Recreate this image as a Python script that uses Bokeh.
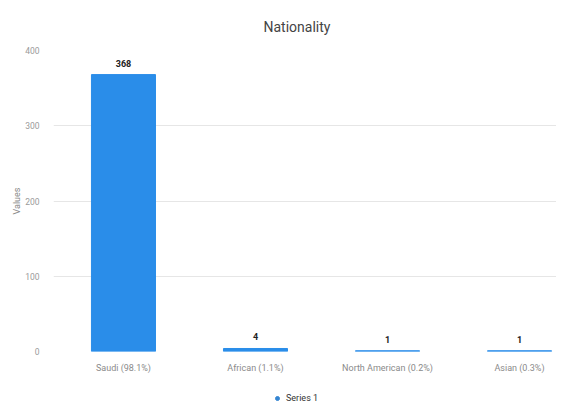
from bokeh.plotting import figure
from bokeh.layouts import column
from bokeh.models import ColumnDataSource, Range1d, FixedTicker, Legend, LegendItem
from bokeh.core.properties import value
from bokeh.embed import file_html
from bokeh.resources import INLINE

categories = ["Saudi (98.1%)", "African (1.1%)", "North American (0.2%)", "Asian (0.3%)"]
counts = [368, 4, 1, 1]
y_ticks = [0, 100, 200, 300, 400]
series_name = "Series 1"

xs = list(range(len(categories)))
src = ColumnDataSource(dict(x=xs, y=counts, lbl=[str(c) for c in counts]))

FONT = "Roboto"
BLUE = "#2a8de9"

p = figure(width=556, height=380, output_backend="svg", toolbar_location=None,
           x_range=Range1d(-0.53, 3.28), y_range=Range1d(0, 400),
           min_border_left=53, min_border_right=0, min_border_top=50, min_border_bottom=29,
           title="Nationality")
p.outline_line_color = None
p.background_fill_color = "white"
p.border_fill_color = "white"

p.title.align = "left"
p.title.offset = 210
p.title.text_font = FONT
p.title.text_font_style = "normal"
p.title.text_font_size = "14px"
p.title.text_color = "#444444"
p.title.standoff = 31

p.vbar(x="x", top="y", width=0.485, source=src, color=BLUE)
p.text(x="x", y="y", text="lbl", source=src, y_offset=-8, text_align="center",
       text_baseline="bottom", text_font=value(FONT), text_font_style="bold",
       text_font_size="9px", text_color="#222222")

p.xaxis.ticker = FixedTicker(ticks=xs)
p.xaxis.major_label_overrides = {i: c for i, c in zip(xs, categories)}
p.yaxis.ticker = FixedTicker(ticks=y_ticks)
for ax in (p.xaxis[0], p.yaxis[0]):
    ax.axis_line_color = None
    ax.major_tick_line_color = None
    ax.minor_tick_line_color = None
    ax.major_label_text_font = FONT
    ax.major_label_text_font_size = "9px"
    ax.major_label_text_color = "#8a8a8a"
p.yaxis.major_label_text_font_size = "8.5px"
p.yaxis.major_label_text_color = "#9a9a9a"
p.xaxis.major_label_standoff = 5
p.yaxis.major_label_standoff = 8
p.yaxis.axis_label = "Values"
p.yaxis.axis_label_text_font = FONT
p.yaxis.axis_label_text_font_style = "normal"
p.yaxis.axis_label_text_font_size = "9px"
p.yaxis.axis_label_text_color = "#8a8a8a"
p.yaxis.axis_label_standoff = 0

p.xgrid.grid_line_color = None
p.ygrid.grid_line_color = "#e6e6e6"

# legend strip below the chart
q = figure(width=556, height=23, output_backend="svg", toolbar_location=None,
           x_range=Range1d(0, 1), y_range=Range1d(0, 1),
           min_border_left=0, min_border_right=0, min_border_top=0, min_border_bottom=0)
q.axis.visible = False
q.grid.visible = False
q.outline_line_color = None
q.border_fill_color = "white"
dummy = q.scatter(x=[0.5], y=[0.5], marker="circle", size=11, color="#3585d2", visible=False)
legend = Legend(items=[LegendItem(label=series_name, renderers=[dummy])],
                orientation="horizontal", location=(219, 0),
                label_text_font=FONT, label_text_font_size="9px",
                label_text_color="#333333", border_line_color=None,
                background_fill_alpha=0, glyph_width=10, glyph_height=10,
                padding=2, margin=0, label_standoff=4, label_height=10)
q.add_layout(legend, "center")

layout = column(p, q, spacing=0)
open("out.html", "w").write(file_html(layout, INLINE))
